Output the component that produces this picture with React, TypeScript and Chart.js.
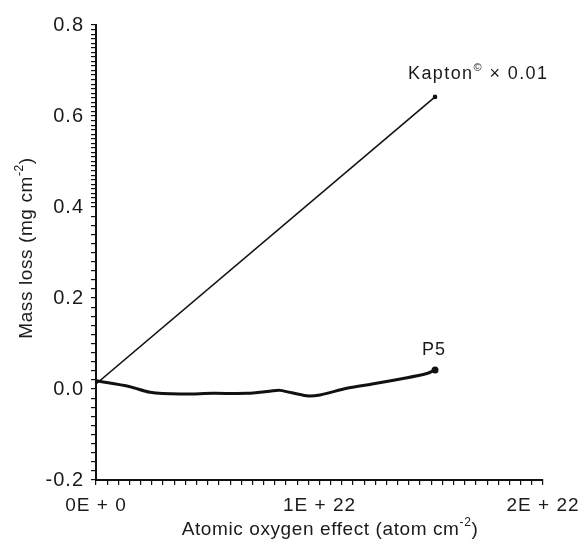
import React, { useEffect, useRef } from 'react';
import { Chart, registerables } from 'chart.js';
Chart.register(...registerables);

// ---- data ----
const kaptonX = [0, 1.517e22];
const kaptonY = [0.011, 0.642];
const p5X = [0, 0.152e22, 0.242e22, 0.376e22, 0.523e22, 0.676e22, 0.778e22, 0.823e22, 0.943e22, 1.002e22, 1.122e22, 1.226e22, 1.374e22, 1.48e22, 1.517e22];
const p5Y = [0.018, 0.005, -0.007, -0.011, -0.0095, -0.0095, -0.005, -0.003, -0.015, -0.013, 0.0015, 0.01, 0.023, 0.034, 0.042];

const xMajorTicks = [0, 1e22, 2e22];
const xTickLabels = ['0E + 0', '1E + 22', '2E + 22'];
const yMajorTicks = [-0.2, 0, 0.2, 0.4, 0.6, 0.8];
const yTickLabels = ['-0.2', '0.0', '0.2', '0.4', '0.6', '0.8'];

const xTitleParts = [['Atomic oxygen effect (atom cm', 0], ['-2', 1], [')', 0]];
const yTitleParts = [['Mass loss (mg cm', 0], ['-2', 1], [')', 0]];
const kaptonLabel = [['Kapton', 0], ['©', 1], [' × 0.01', 0]];
const p5Label = [['P5', 0]];

const FONT = '"Liberation Sans", Arial, sans-serif';
const INK = '#1a1a1a';

function drawRich(ctx: any, parts: any[], x: number, y: number, size: number, align: 'left' | 'center', spacing: number) {
  const big = `${size}px ${FONT}`;
  const small = `${Math.round(size * 0.62)}px ${FONT}`;
  ctx.letterSpacing = `${spacing}px`;
  let total = 0;
  const widths = parts.map(([t, s]: any) => {
    ctx.font = s ? small : big;
    const w = ctx.measureText(t).width;
    total += w;
    return w;
  });
  let cx = align === 'center' ? x - total / 2 : x;
  ctx.textAlign = 'left';
  ctx.textBaseline = 'alphabetic';
  parts.forEach(([t, s]: any, i: number) => {
    ctx.font = s ? small : big;
    ctx.fillText(t, cx, s ? y - size * 0.45 : y);
    cx += widths[i];
  });
}

const labelPlugin = {
  id: 'labels',
  beforeDraw(chart: any) {
    (chart.ctx as any).letterSpacing = '1px';
  },
  afterDraw(chart: any) {
    const ctx = chart.ctx as any;
    const xs = chart.scales.x;
    const ys = chart.scales.y;
    ctx.save();
    ctx.fillStyle = INK;
    // axis titles
    drawRich(ctx, xTitleParts, 330, 535, 19, 'center', 0.6);
    ctx.save();
    ctx.translate(32, 248);
    ctx.rotate(-Math.PI / 2);
    drawRich(ctx, yTitleParts, 0, 0, 19, 'center', 0.6);
    ctx.restore();
    // series labels
    const kx = xs.getPixelForValue(kaptonX[kaptonX.length - 1]);
    const ky = ys.getPixelForValue(kaptonY[kaptonY.length - 1]);
    drawRich(ctx, kaptonLabel, kx - 27, ky - 18, 18, 'left', 1.4);
    const px = xs.getPixelForValue(p5X[p5X.length - 1]);
    const py = ys.getPixelForValue(p5Y[p5Y.length - 1]);
    drawRich(ctx, p5Label, px - 13, py - 15, 18, 'left', 1);
    ctx.restore();
  },
};

function near(v: number, arr: number[], eps: number) {
  return arr.findIndex((m) => Math.abs(m - v) < eps);
}

export default function App() {
  const ref = useRef<HTMLCanvasElement>(null);
  useEffect(() => {
    if (!ref.current) return;
    const xTickVals: number[] = [];
    for (let i = 0; i <= 40; i++) xTickVals.push(i * 5e20);
    const yTickVals: number[] = [];
    for (let i = 0; i < 30; i++) yTickVals.push(-0.2 + i * 0.02);
    for (let i = 0; i <= 40; i++) yTickVals.push(0.4 + i * 0.01);

    const chart = new Chart(ref.current, {
      type: 'scatter',
      data: {
        datasets: [
          {
            label: 'Kapton',
            data: kaptonX.map((x, i) => ({ x, y: kaptonY[i] })),
            showLine: true,
            borderColor: '#111',
            backgroundColor: '#111',
            borderWidth: 1.6,
            pointRadius: [0, 1.5],
          },
          {
            label: 'P5',
            data: p5X.map((x, i) => ({ x, y: p5Y[i] })),
            showLine: true,
            borderColor: '#111',
            backgroundColor: '#111',
            borderWidth: 3,
            tension: 0.3,
            pointRadius: p5X.map((_, i) => (i === p5X.length - 1 ? 2 : 0)),
          },
        ],
      },
      options: {
        responsive: false,
        animation: false,
        layout: { padding: { left: 0, top: 25, right: 38, bottom: 0 } },
        plugins: { legend: { display: false }, tooltip: { enabled: false } },
        scales: {
          x: {
            type: 'linear',
            min: 0,
            max: 2e22,
            afterBuildTicks: (s: any) => {
              s.ticks = xTickVals.map((v) => ({ value: v }));
            },
            afterFit: (s: any) => {
              s.height = 66;
              s.paddingRight = 0;
              s.paddingLeft = 0;
            },
            ticks: {
              autoSkip: false,
              maxRotation: 0,
              padding: 9,
              color: INK,
              font: { family: FONT, size: 19 },
              callback: (v: any) => {
                const i = near(Number(v), xMajorTicks, 1e18);
                return i >= 0 ? xTickLabels[i] : '';
              },
            },
            grid: { drawOnChartArea: false, drawTicks: true, tickLength: 5, color: '#111', lineWidth: 1.2 },
            border: { display: true, color: '#111', width: 2 },
          },
          y: {
            type: 'linear',
            min: -0.2,
            max: 0.8,
            afterBuildTicks: (s: any) => {
              s.ticks = yTickVals.map((v) => ({ value: v }));
            },
            afterFit: (s: any) => {
              s.width = 96;
            },
            ticks: {
              autoSkip: false,
              padding: 7,
              color: INK,
              font: { family: FONT, size: 20 },
              callback: (v: any) => {
                const i = near(Number(v), yMajorTicks, 1e-6);
                return i >= 0 ? yTickLabels[i] : '';
              },
            },
            grid: { drawOnChartArea: false, drawTicks: true, tickLength: 5, color: '#111', lineWidth: 1.2 },
            border: { display: true, color: '#111', width: 2 },
          },
        },
      },
      plugins: [labelPlugin],
    });
    return () => chart.destroy();
  }, []);
  return (
    <canvas
      ref={ref}
      width={581}
      height={546}
      style={{ position: 'absolute', left: 0, top: 0, width: 581, height: 546, background: '#fff' }}
    />
  );
}
